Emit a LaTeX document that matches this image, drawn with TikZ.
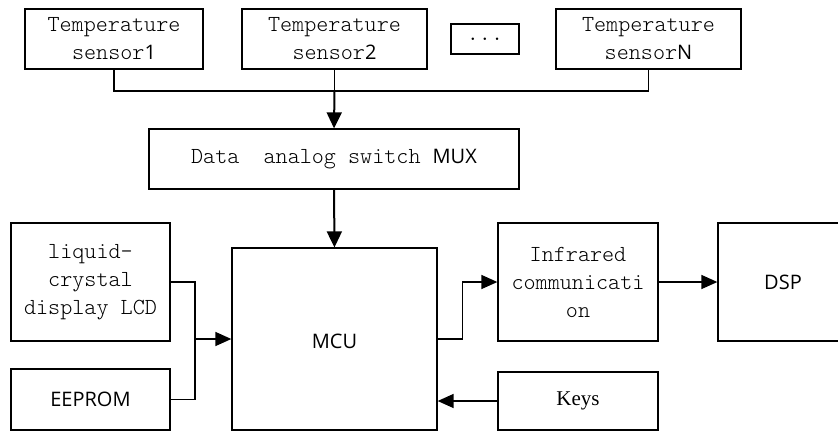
\documentclass[tikz,border=0pt]{standalone}
\usepackage{fontspec}
\setsansfont{Open Sans}
\setmonofont{Latin Modern Mono Light}
\newfontfamily\keysfont{Liberation Serif}
\usetikzlibrary{arrows.meta}
\tikzset{
  box/.style={draw, line width=1.3pt, inner sep=0pt, align=center,
    font=\ttfamily\fontsize{23}{28}\selectfont},
  conn/.style={line width=1.5pt},
  arr/.style={line width=1.5pt, -{Triangle[length=16pt,width=14pt]}},
  bigarr/.style={line width=2pt, -{Triangle[length=16pt,width=15pt]}},
}
\newcommand{\sfx}[1]{{\sffamily\fontsize{20}{24}\selectfont #1}}
\begin{document}
\begin{tikzpicture}[x=1pt,y=-1pt]
\useasboundingbox (0,0) rectangle (838,432);
\node[box, minimum width=178pt, minimum height=60pt] (s1) at (114,39) {Temperature\\sensor\sfx{1}};
\node[box, minimum width=185pt, minimum height=60pt] (s2) at (334.5,39) {Temperature\\sensor\sfx{2}};
\node[box, minimum width=68pt, minimum height=30pt] (dots) at (485,39) {...};
\node[box, minimum width=185pt, minimum height=60pt] (sN) at (648.5,39) {Temperature\\sensor\sfx{N}};
\node[box, minimum width=370pt, minimum height=60pt] (mux) at (334,159) {Data\ \ analog switch \sfx{MUX}};
\node[box, minimum width=159pt, minimum height=118pt] (lcd) at (90.5,282) {liquid-\\crystal\\display LCD};
\node[box, minimum width=159pt, minimum height=61pt] (eep) at (90.5,399.5) {\sfx{EEPROM}};
\node[box, minimum width=205pt, minimum height=182pt] (mcu) at (334.5,339) {};
\node[font=\sffamily\fontsize{20}{24}\selectfont] (mcul) at (334.5,341) {MCU};
\node[box, minimum width=160pt, minimum height=118pt] (ir) at (578,282) {Infrared\\communicati\\on};
\node[box, minimum width=130pt, minimum height=118pt] (dsp) at (783,282) {\sfx{DSP}};
\node[box, minimum width=160pt, minimum height=58pt] (keys) at (578,401) {\keysfont\fontsize{21}{24}\selectfont Keys};
\coordinate (bus) at (333,91);
\coordinate (j) at (195,339);
% sensor bus
\draw[conn] (s1.south) |- (bus) -| (sN.south);
\draw[conn] (s2.south) -- (s2.south |- bus);
\draw[bigarr] (s2.south |- bus) -- (mux.north);
\draw[bigarr] (mux.south) -- (mcu.north);
% LCD / EEPROM to MCU
\draw[conn] (lcd.east) -| (j);
\draw[conn] (eep.east) -| (j);
\draw[arr] (j) -- (mcu.west);
% MCU to IR to DSP
\draw[arr] (mcu.east) -- ++(25,0) |- (ir.west);
\draw[arr] (ir.east) -- (dsp.west);
% Keys to MCU
\draw[arr] (keys.west) -- (mcu.east |- keys.west);
\end{tikzpicture}
\end{document}
